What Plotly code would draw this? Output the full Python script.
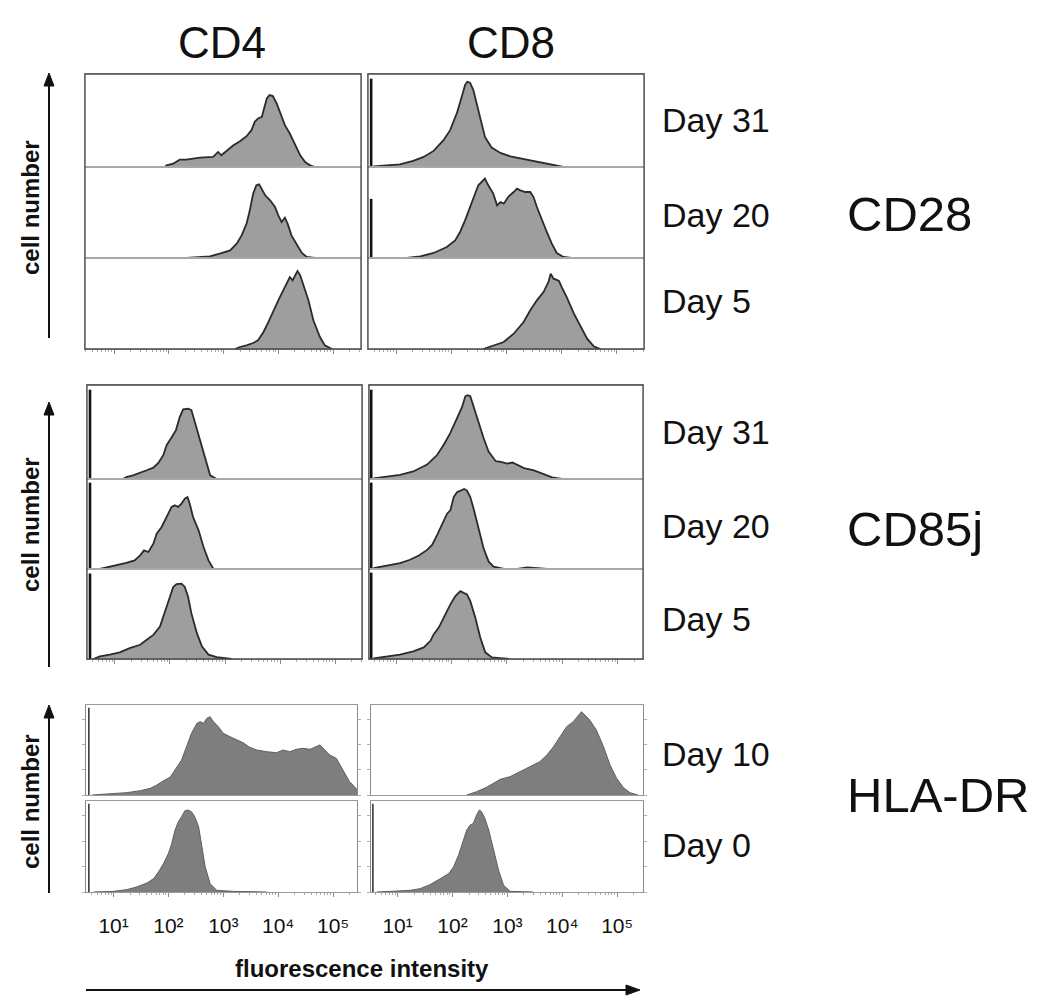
import math
import plotly.graph_objects as go

W, H = 1050, 998

# ---------------- data: x = log10(fluorescence intensity), y = relative cell number ----------------
columns = ["CD4", "CD8"]
markers = ["CD28", "CD85j", "HLA-DR"]
cd28_days = ["Day 31", "Day 20", "Day 5"]
cd85j_days = ["Day 31", "Day 20", "Day 5"]
hladr_days = ["Day 10", "Day 0"]
tick_decades = [1, 2, 3, 4, 5]
tick_labels = ["10¹", "10²", "10³", "10⁴", "10⁵"]
spike_x = 0.55

# CD28 / CD4
cd28_cd4_d31_x = [1.93, 1.96, 2.08, 2.20, 2.32, 2.57, 2.81, 2.90, 2.96, 3.09, 3.18, 3.30, 3.42, 3.51, 3.57,
                  3.63, 3.70, 3.74, 3.79, 3.84, 3.90, 3.97, 4.06, 4.12, 4.21, 4.31, 4.40, 4.49, 4.58, 4.67]
cd28_cd4_d31_y = [0, 0.018, 0.036, 0.079, 0.079, 0.101, 0.108, 0.162, 0.126, 0.187, 0.234, 0.277, 0.331, 0.396,
                  0.486, 0.522, 0.540, 0.629, 0.737, 0.773, 0.763, 0.683, 0.540, 0.450, 0.360, 0.234, 0.126,
                  0.054, 0.018, 0]
cd28_cd4_d20_x = [2.32, 2.57, 2.75, 2.93, 3.12, 3.24, 3.33, 3.42, 3.48, 3.54, 3.60, 3.65, 3.70, 3.76, 3.85,
                  3.94, 4.00, 4.06, 4.12, 4.17, 4.24, 4.34, 4.43, 4.52, 4.67]
cd28_cd4_d20_y = [0, 0.011, 0.018, 0.048, 0.084, 0.158, 0.249, 0.377, 0.524, 0.707, 0.799, 0.810, 0.762, 0.689,
                  0.634, 0.560, 0.469, 0.396, 0.443, 0.377, 0.249, 0.139, 0.055, 0.011, 0]
cd28_cd4_d5_x = [3.21, 3.30, 3.42, 3.54, 3.63, 3.73, 3.82, 3.91, 4.00, 4.09, 4.17, 4.21, 4.26, 4.31, 4.35,
                 4.40, 4.47, 4.55, 4.64, 4.76, 4.85, 4.98]
cd28_cd4_d5_y = [0, 0.022, 0.040, 0.066, 0.095, 0.187, 0.297, 0.425, 0.535, 0.645, 0.755, 0.791, 0.755, 0.810,
                 0.857, 0.810, 0.681, 0.535, 0.315, 0.132, 0.040, 0]
cd28_cd4_spike = [0, 0, 0]

# CD28 / CD8
cd28_cd8_d31_x = [0.59, 0.83, 1.07, 1.31, 1.50, 1.68, 1.86, 1.98, 2.10, 2.19, 2.25, 2.29, 2.34, 2.40, 2.46,
                  2.52, 2.61, 2.73, 2.89, 3.07, 3.31, 3.55, 3.79, 4.03]
cd28_cd8_d31_y = [0.007, 0.014, 0.029, 0.065, 0.108, 0.173, 0.288, 0.396, 0.576, 0.755, 0.881, 0.917, 0.906,
                  0.827, 0.683, 0.522, 0.324, 0.209, 0.151, 0.115, 0.086, 0.054, 0.025, 0]
cd28_cd8_d20_x = [1.19, 1.44, 1.68, 1.92, 2.07, 2.16, 2.25, 2.34, 2.43, 2.49, 2.55, 2.61, 2.66, 2.70, 2.76,
                  2.83, 2.89, 2.95, 3.04, 3.13, 3.19, 3.25, 3.34, 3.43, 3.49, 3.55, 3.64, 3.73, 3.82, 3.91,
                  4.03, 4.18]
cd28_cd8_d20_y = [0, 0.018, 0.055, 0.121, 0.194, 0.286, 0.414, 0.560, 0.725, 0.799, 0.835, 0.872, 0.810, 0.762,
                  0.707, 0.579, 0.615, 0.597, 0.678, 0.725, 0.762, 0.744, 0.725, 0.725, 0.670, 0.560, 0.414,
                  0.286, 0.158, 0.055, 0.011, 0]
cd28_cd8_d5_x = [2.58, 2.76, 2.95, 3.13, 3.31, 3.43, 3.55, 3.67, 3.76, 3.80, 3.85, 3.90, 3.95, 4.00, 4.09,
                 4.22, 4.34, 4.46, 4.58, 4.70]
cd28_cd8_d5_y = [0, 0.040, 0.077, 0.168, 0.297, 0.425, 0.535, 0.626, 0.736, 0.828, 0.773, 0.762, 0.747, 0.681,
                 0.571, 0.388, 0.242, 0.114, 0.029, 0]
cd28_cd8_spike = [0.95, 0.65, 0]

# CD85j / CD4
cd85j_cd4_d31_x = [1.15, 1.21, 1.33, 1.46, 1.58, 1.70, 1.79, 1.88, 1.94, 2.03, 2.11, 2.18, 2.24, 2.33, 2.39,
                   2.46, 2.53, 2.59, 2.66, 2.73, 2.85]
cd85j_cd4_d31_y = [0, 0.021, 0.039, 0.064, 0.093, 0.121, 0.171, 0.253, 0.359, 0.441, 0.520, 0.662, 0.740, 0.747,
                   0.733, 0.591, 0.448, 0.324, 0.164, 0.039, 0]
cd85j_cd4_d20_x = [0.73, 0.85, 1.03, 1.21, 1.36, 1.46, 1.53, 1.61, 1.70, 1.76, 1.85, 1.94, 2.03, 2.09, 2.15,
                   2.21, 2.27, 2.32, 2.36, 2.42, 2.52, 2.61, 2.70, 2.79]
cd85j_cd4_d20_y = [0, 0.015, 0.041, 0.067, 0.096, 0.152, 0.207, 0.189, 0.281, 0.393, 0.467, 0.578, 0.689, 0.707,
                   0.689, 0.726, 0.781, 0.800, 0.726, 0.578, 0.430, 0.244, 0.096, 0]
cd85j_cd4_d5_x = [0.61, 0.73, 0.91, 1.09, 1.27, 1.33, 1.46, 1.58, 1.70, 1.82, 1.88, 1.94, 2.00, 2.06, 2.12,
                  2.21, 2.27, 2.33, 2.39, 2.49, 2.58, 2.70, 2.85, 3.06, 3.12]
cd85j_cd4_d5_y = [0, 0.029, 0.048, 0.074, 0.121, 0.132, 0.158, 0.213, 0.268, 0.360, 0.471, 0.581, 0.691, 0.801,
                  0.831, 0.838, 0.801, 0.691, 0.507, 0.287, 0.140, 0.048, 0.022, 0.007, 0]
cd85j_cd4_spike = [0.95, 0.96, 0.95]

# CD85j / CD8
cd85j_cd8_d31_x = [0.59, 0.83, 1.07, 1.31, 1.56, 1.74, 1.86, 1.98, 2.10, 2.19, 2.25, 2.29, 2.34, 2.40, 2.49,
                   2.58, 2.67, 2.80, 2.89, 3.01, 3.10, 3.19, 3.31, 3.49, 3.64, 3.82, 4.00]
cd85j_cd8_d31_y = [0.007, 0.029, 0.044, 0.080, 0.153, 0.255, 0.364, 0.491, 0.655, 0.764, 0.880, 0.891, 0.880,
                   0.764, 0.600, 0.436, 0.291, 0.189, 0.182, 0.164, 0.175, 0.153, 0.116, 0.091, 0.055, 0.018, 0]
cd85j_cd8_d20_x = [0.59, 0.83, 1.07, 1.25, 1.41, 1.56, 1.65, 1.74, 1.86, 1.92, 1.98, 2.04, 2.10, 2.16, 2.23,
                   2.28, 2.34, 2.40, 2.49, 2.58, 2.67, 2.76, 2.95, 3.19, 3.37, 3.55, 3.73]
cd85j_cd8_d20_y = [0.011, 0.040, 0.066, 0.103, 0.150, 0.212, 0.267, 0.377, 0.524, 0.615, 0.652, 0.799, 0.853,
                   0.872, 0.890, 0.872, 0.799, 0.670, 0.451, 0.231, 0.084, 0.026, 0, 0, 0.018, 0.011, 0]
cd85j_cd8_d5_x = [0.59, 0.83, 1.07, 1.31, 1.50, 1.62, 1.68, 1.77, 1.86, 1.98, 2.07, 2.16, 2.22, 2.28, 2.34,
                  2.43, 2.52, 2.61, 2.73, 2.89, 3.04]
cd85j_cd8_d5_y = [0.007, 0.026, 0.048, 0.085, 0.129, 0.202, 0.276, 0.349, 0.460, 0.607, 0.699, 0.754, 0.735,
                  0.717, 0.643, 0.460, 0.239, 0.074, 0.018, 0.007, 0]
cd85j_cd8_spike = [0.95, 0.96, 0.96]

# HLA-DR / CD4
hladr_cd4_d10_x = [0.61, 0.94, 1.24, 1.49, 1.67, 1.79, 1.91, 2.03, 2.15, 2.24, 2.33, 2.42, 2.52, 2.58, 2.64,
                   2.70, 2.76, 2.82, 2.91, 3.00, 3.12, 3.24, 3.36, 3.48, 3.61, 3.79, 3.97, 4.09, 4.21, 4.33,
                   4.45, 4.58, 4.70, 4.76, 4.85, 4.94, 5.06, 5.18, 5.30, 5.39, 5.44, 5.45]
hladr_cd4_d10_y = [0, 0.011, 0.026, 0.048, 0.074, 0.111, 0.159, 0.196, 0.307, 0.389, 0.537, 0.685, 0.796, 0.815,
                   0.796, 0.852, 0.870, 0.815, 0.759, 0.685, 0.648, 0.611, 0.581, 0.530, 0.500, 0.481, 0.470,
                   0.500, 0.481, 0.507, 0.519, 0.507, 0.544, 0.556, 0.500, 0.444, 0.407, 0.278, 0.148, 0.093,
                   0.056, 0]
hladr_cd4_d0_x = [0.64, 1.00, 1.24, 1.42, 1.61, 1.73, 1.82, 1.91, 2.00, 2.06, 2.12, 2.18, 2.24, 2.30, 2.36,
                  2.42, 2.48, 2.55, 2.61, 2.67, 2.76, 2.88, 3.18, 3.79]
hladr_cd4_d0_y = [0, 0.007, 0.026, 0.055, 0.099, 0.147, 0.221, 0.313, 0.423, 0.533, 0.680, 0.772, 0.827, 0.893,
                  0.901, 0.882, 0.827, 0.717, 0.496, 0.276, 0.092, 0.018, 0.007, 0]
hladr_cd4_spike = [0.97, 0.97]

# HLA-DR / CD8
hladr_cd8_d10_x = [2.26, 2.44, 2.62, 2.75, 2.87, 3.05, 3.23, 3.41, 3.59, 3.72, 3.84, 3.96, 4.08, 4.20, 4.32,
                   4.35, 4.41, 4.50, 4.62, 4.75, 4.87, 4.99, 5.11, 5.23, 5.38]
hladr_cd8_d10_y = [0, 0.037, 0.085, 0.130, 0.174, 0.204, 0.259, 0.307, 0.370, 0.444, 0.537, 0.648, 0.759, 0.815,
                   0.907, 0.926, 0.889, 0.833, 0.722, 0.537, 0.333, 0.185, 0.085, 0.026, 0]
hladr_cd8_d0_x = [0.62, 0.93, 1.23, 1.41, 1.59, 1.78, 1.93, 2.02, 2.11, 2.20, 2.26, 2.32, 2.38, 2.44, 2.49,
                  2.53, 2.59, 2.66, 2.75, 2.84, 2.93, 3.05, 3.47]
hladr_cd8_d0_y = [0, 0.007, 0.018, 0.037, 0.081, 0.147, 0.202, 0.276, 0.404, 0.570, 0.680, 0.735, 0.754, 0.846,
                  0.901, 0.882, 0.809, 0.680, 0.460, 0.239, 0.074, 0.007, 0]
hladr_cd8_spike = [0, 0.97]

# ---------------- layout (pixel boxes) ----------------
groups = [
    dict(days=cd28_days, marker="CD28",
         rows=[(74, 167), (167, 258), (258, 349)],
         cols=[(85, 361), (368, 644)], xr=[(0.47, 5.51), (0.493, 5.489)],
         curves=[[(cd28_cd4_d31_x, cd28_cd4_d31_y), (cd28_cd4_d20_x, cd28_cd4_d20_y), (cd28_cd4_d5_x, cd28_cd4_d5_y)],
                 [(cd28_cd8_d31_x, cd28_cd8_d31_y), (cd28_cd8_d20_x, cd28_cd8_d20_y), (cd28_cd8_d5_x, cd28_cd8_d5_y)]],
         spikes=[cd28_cd4_spike, cd28_cd8_spike],
         day_y=[118, 213, 299], marker_y=212, label_y=208, arrow=(73, 338), style="light", labels=False),
    dict(days=cd85j_days, marker="CD85j",
         rows=[(385, 479), (479, 569), (569, 659)],
         cols=[(87, 362), (369, 643)], xr=[(0.496, 5.485), (0.51, 5.46)],
         curves=[[(cd85j_cd4_d31_x, cd85j_cd4_d31_y), (cd85j_cd4_d20_x, cd85j_cd4_d20_y), (cd85j_cd4_d5_x, cd85j_cd4_d5_y)],
                 [(cd85j_cd8_d31_x, cd85j_cd8_d31_y), (cd85j_cd8_d20_x, cd85j_cd8_d20_y), (cd85j_cd8_d5_x, cd85j_cd8_d5_y)]],
         spikes=[cd85j_cd4_spike, cd85j_cd8_spike],
         day_y=[430, 524, 617], marker_y=527, label_y=525, arrow=(402, 667), style="light", labels=False),
    dict(days=hladr_days, marker="HLA-DR",
         rows=[(705, 795), (801, 892)],
         cols=[(86, 357), (371, 643)], xr=[(0.498, 5.436), (0.516, 5.47)],
         curves=[[(hladr_cd4_d10_x, hladr_cd4_d10_y), (hladr_cd4_d0_x, hladr_cd4_d0_y)],
                 [(hladr_cd8_d10_x, hladr_cd8_d10_y), (hladr_cd8_d0_x, hladr_cd8_d0_y)]],
         spikes=[hladr_cd4_spike, hladr_cd8_spike],
         day_y=[752, 843], marker_y=793, label_y=802, arrow=(705, 893), style="dark", labels=True),
]

ARIAL = "Liberation Sans, Arial, sans-serif"


def fx(p):
    return p / W


def fy(p):
    return 1 - p / H


def up_arrow(x, tip, tail):
    line = dict(type="line", xref="paper", yref="paper", x0=fx(x), x1=fx(x), y0=fy(tail), y1=fy(tip + 8),
                line=dict(color="#111111", width=2))
    head = dict(type="path", xref="paper", yref="paper", fillcolor="#111111", line=dict(color="#111111", width=1),
                path=f"M {fx(x - 5)},{fy(tip + 13)} L {fx(x)},{fy(tip)} L {fx(x + 5)},{fy(tip + 13)} Z")
    return [line, head]


def right_arrow(y, tail, tip):
    line = dict(type="line", xref="paper", yref="paper", x0=fx(tail), x1=fx(tip - 8), y0=fy(y), y1=fy(y),
                line=dict(color="#111111", width=2))
    head = dict(type="path", xref="paper", yref="paper", fillcolor="#111111", line=dict(color="#111111", width=1),
                path=f"M {fx(tip - 14)},{fy(y - 5)} L {fx(tip)},{fy(y)} L {fx(tip - 14)},{fy(y + 5)} Z")
    return [line, head]


minor_vals = [n + math.log10(k) for n in range(0, 6) for k in range(2, 10)]

fig = go.Figure()
layout_axes = {}
shapes = []
annotations = []
ax_i = 0

for g in groups:
    nrows = len(g["rows"])
    for ci in range(2):
        xl, xr_px = g["cols"][ci]
        for ri in range(nrows):
            ax_i += 1
            sfx = "" if ax_i == 1 else str(ax_i)
            top, bot = g["rows"][ri]
            xs, ys = g["curves"][ci][ri]
            dark = g["style"] == "dark"
            fig.add_trace(go.Scatter(
                x=xs, y=ys, mode="lines", fill="tozeroy",
                fillcolor="#7e7e7e" if dark else "#9e9e9e",
                line=dict(color="#5e5e5e" if dark else "#2b2b2b", width=1.0 if dark else 1.8),
                xaxis="x" + sfx, yaxis="y" + sfx, showlegend=False, hoverinfo="skip"))
            h = g["spikes"][ci][ri]
            if h > 0:
                fig.add_trace(go.Scatter(
                    x=[spike_x, spike_x], y=[0, h], mode="lines",
                    line=dict(color="#3a3a3a" if dark else "#111111", width=1.6 if dark else 2.6),
                    xaxis="x" + sfx, yaxis="y" + sfx, showlegend=False, hoverinfo="skip"))
            is_bottom = ri == nrows - 1
            xaxis = dict(domain=[fx(xl), fx(xr_px)], range=list(g["xr"][ci]), anchor="y" + sfx,
                         showgrid=False, zeroline=False, showline=True, mirror=True,
                         linecolor="#a8a8a8" if not dark else "#9a9a9a", linewidth=1,
                         tickmode="array", tickvals=tick_decades, ticktext=tick_labels,
                         showticklabels=False, ticks="")
            if is_bottom:
                xaxis.update(ticks="outside", ticklen=4, tickcolor="#8a8a8a", tickwidth=1,
                             minor=dict(tickmode="array", tickvals=minor_vals, ticks="outside",
                                        ticklen=2, tickcolor="#aaaaaa", tickwidth=1))
                if g["labels"]:
                    xaxis.update(showticklabels=True, ticklabelstandoff=11,
                                 tickfont=dict(family=ARIAL, size=21, color="#111111"))
            yaxis = dict(domain=[fy(bot), fy(top)], range=[0, 1], anchor="x" + sfx,
                         showgrid=False, zeroline=False, showline=True, mirror=True,
                         linecolor="#a8a8a8" if not dark else "#8a8a8a", linewidth=1,
                         showticklabels=False, ticks="")
            if dark:
                yaxis.update(ticks="outside", ticklen=3, tickcolor="#b0b0b0",
                             tickmode="array", tickvals=[0, 0.28, 0.56, 0.84], mirror="ticks")
            layout_axes["xaxis" + sfx] = xaxis
            layout_axes["yaxis" + sfx] = yaxis
        if g["style"] == "light":
            shapes.append(dict(type="rect", xref="paper", yref="paper",
                               x0=fx(xl), x1=fx(xr_px), y0=fy(g["rows"][-1][1]), y1=fy(g["rows"][0][0]),
                               line=dict(color="#4a4a4a", width=1.3)))
    for d, yy in zip(g["days"], g["day_y"]):
        annotations.append(dict(x=fx(660), y=fy(yy + 2), xref="paper", yref="paper", text=d, showarrow=False,
                                xanchor="left", yanchor="middle",
                                font=dict(family=ARIAL, size=34, color="#111111")))
    annotations.append(dict(x=fx(845), y=fy(g["marker_y"] + 2), xref="paper", yref="paper", text=g["marker"],
                            showarrow=False, xanchor="left", yanchor="middle",
                            font=dict(family=ARIAL, size=49, color="#111111")))
    annotations.append(dict(x=fx(30), y=fy(g["label_y"]), xref="paper", yref="paper", text="<b>cell number</b>",
                            showarrow=False, textangle=-90, xanchor="center", yanchor="middle",
                            font=dict(family=ARIAL, size=24, color="#111111")))
    tip, tail = g["arrow"]
    shapes.extend(up_arrow(49, tip, tail))

for name, cx in zip(columns, [222, 511]):
    annotations.append(dict(x=fx(cx), y=fy(42), xref="paper", yref="paper", text=name, showarrow=False,
                            xanchor="center", yanchor="middle",
                            font=dict(family=ARIAL, size=44, color="#111111")))

annotations.append(dict(x=fx(362), y=fy(968), xref="paper", yref="paper", text="<b>fluorescence intensity</b>",
                        showarrow=False, xanchor="center", yanchor="middle",
                        font=dict(family=ARIAL, size=24, color="#111111")))
shapes.extend(right_arrow(990, 86, 640))

fig.update_layout(width=W, height=H, margin=dict(l=0, r=0, t=0, b=0),
                  paper_bgcolor="white", plot_bgcolor="white",
                  shapes=shapes, annotations=annotations, **layout_axes)

fig.write_html("out.html", config={"displayModeBar": False},
               post_script="document.body.style.margin='0px';document.body.style.padding='0px';")
